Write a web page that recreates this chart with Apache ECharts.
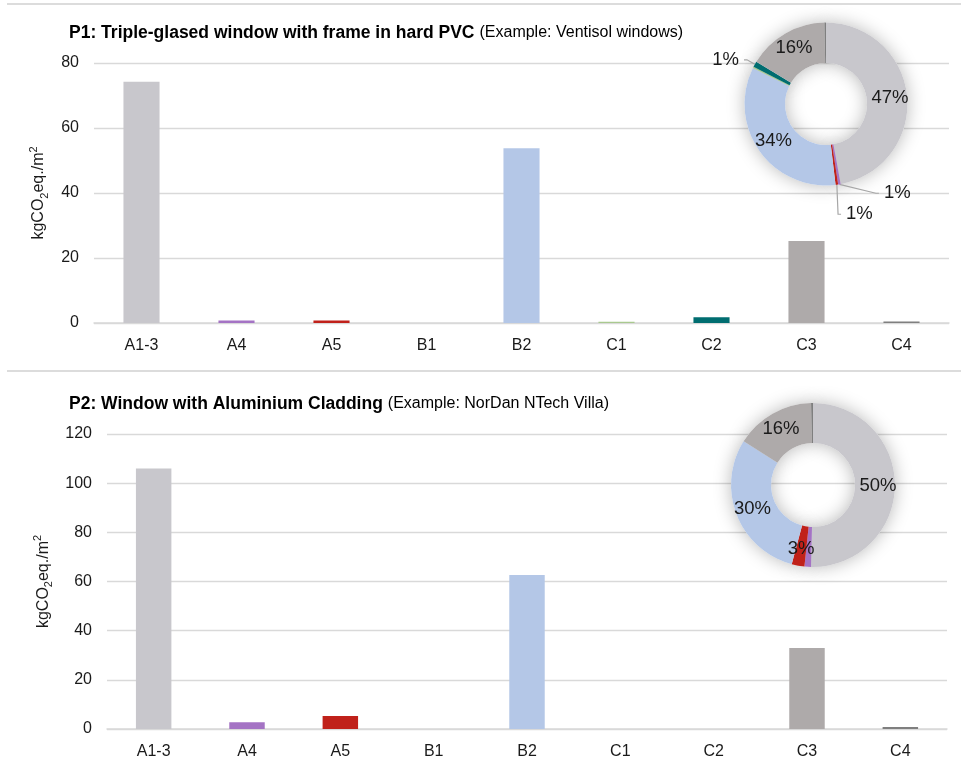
<!DOCTYPE html>
<html>
<head>
<meta charset="utf-8">
<script src="https://cdn.jsdelivr.net/npm/echarts@6/dist/echarts.min.js"></script>
<style>
  html, body { margin: 0; padding: 0; background: #fff; }
  #chart { width: 961px; height: 772px; }
</style>
</head>
<body>
<div id="chart"></div>
<script>
// Life-cycle stages (EN 15804 modules)
const categories = ['A1-3', 'A4', 'A5', 'B1', 'B2', 'C1', 'C2', 'C3', 'C4'];

// Embodied carbon per m² of window, kgCO2eq./m²
const p1Values = [74.2, 0.8, 0.8, 0, 53.8, 0.4, 1.8, 25.2, 0.5];
const p2Values = [106, 2.7, 5.3, 0, 62.6, 0, 0, 33, 0.8];

// Y-axis ticks
const p1Ticks = [0, 20, 40, 60, 80];
const p2Ticks = [0, 20, 40, 60, 80, 100, 120];

// Panel headings
const p1Title = 'P1: Triple-glased window with frame in hard PVC';
const p1Example = '(Example: Ventisol windows)';
const p2Title = 'P2: Window with Aluminium Cladding';
const p2Example = '(Example: NorDan NTech Villa)';

const stageColors = {
  'A1-3': '#c8c7cc', 'A4': '#a473c4', 'A5': '#c0211a', 'B1': '#8faadc',
  'B2': '#b4c7e7', 'C1': '#a9c98f', 'C2': '#006d70', 'C3': '#aeaaaa', 'C4': '#7f7f7f'
};

const FONT = '"Liberation Sans", Arial, sans-serif';
const TEXT = '#1a1a1a';

const yName = '{a|kgCO}{s|2}{a|eq./m}{p|2}';
const yNameRich = {
  a: { fontSize: 16, color: TEXT, lineHeight: 22, fontFamily: FONT },
  s: { fontSize: 11, color: TEXT, lineHeight: 22, verticalAlign: 'bottom', fontFamily: FONT },
  p: { fontSize: 11, color: TEXT, lineHeight: 22, verticalAlign: 'top', fontFamily: FONT }
};

function makeXAxis(gridIndex) {
  return {
    type: 'category', gridIndex, data: categories,
    axisLine: { lineStyle: { color: '#d9d9d9', width: 1.5 } },
    axisTick: { show: false },
    axisLabel: { color: TEXT, fontSize: 16, margin: 15, fontFamily: FONT }
  };
}

function makeYAxis(gridIndex, ticks, gap) {
  return {
    type: 'value', gridIndex,
    min: ticks[0], max: ticks[ticks.length - 1], interval: ticks[1] - ticks[0],
    axisLine: { show: false }, axisTick: { show: false },
    axisLabel: { color: TEXT, fontSize: 16, margin: 15, fontFamily: FONT },
    splitLine: { lineStyle: { color: '#d9d9d9', width: 1.3 } },
    name: yName, nameLocation: 'middle', nameRotate: 90, nameGap: gap,
    nameTextStyle: { rich: yNameRich }
  };
}

function makeBars(values, axisIndex) {
  return {
    type: 'bar', xAxisIndex: axisIndex, yAxisIndex: axisIndex,
    data: values, barWidth: '38%',
    itemStyle: { color: p => stageColors[categories[p.dataIndex]] }
  };
}

// Donut showing each stage's share; labels only where the share is readable
function makeDonut(values, center, radius, insideSet, outsideSet) {
  const data = categories.map((c, i) => {
    const item = { name: c, value: values[i], itemStyle: { color: stageColors[c] } };
    if (insideSet.includes(c)) {
      item.label = { show: true, position: 'inside' };
    } else if (outsideSet.includes(c)) {
      item.label = { show: true, position: 'outside' };
      item.labelLine = { show: true };
    } else {
      item.label = { show: false };
      item.labelLine = { show: false };
    }
    return item;
  });
  return {
    type: 'pie', center, radius, startAngle: 90, clockwise: true,
    percentPrecision: 0, avoidLabelOverlap: true, z: 5,
    label: { formatter: '{d}%', color: TEXT, fontSize: 18.5, fontFamily: FONT },
    labelLine: { length: 9, length2: 3, lineStyle: { color: '#a6a6a6', width: 1.2 } },
    data
  };
}

// Soft halo behind a donut, drawn from the same values
function makeHalo(values, center, radius) {
  return {
    type: 'pie', center, radius, startAngle: 90, silent: true, z: 4,
    label: { show: false }, labelLine: { show: false },
    itemStyle: { color: '#ffffff', shadowBlur: 18, shadowColor: 'rgba(0,0,0,0.28)' },
    data: categories.map((c, i) => ({ name: c, value: values[i] }))
  };
}

function heading(title, example, top) {
  return {
    text: '{b|' + title + '} {n|' + example + '}',
    left: 64, top,
    textStyle: {
      fontWeight: 'normal',
      rich: {
        b: { fontWeight: 'bold', fontSize: 17.5, color: '#000', fontFamily: FONT },
        n: { fontWeight: 'normal', fontSize: 16, color: '#000', fontFamily: FONT }
      }
    }
  };
}

const chart = echarts.init(document.getElementById('chart'), null, { renderer: 'canvas' });
chart.setOption({
  animation: false,
  backgroundColor: '#ffffff',
  textStyle: { fontFamily: FONT },
  title: [heading(p1Title, p1Example, 19), heading(p2Title, p2Example, 390)],
  grid: [
    { left: 94, width: 855, top: 63, height: 260 },
    { left: 107, width: 840, top: 434, height: 295 }
  ],
  xAxis: [makeXAxis(0), makeXAxis(1)],
  yAxis: [makeYAxis(0, p1Ticks, 44), makeYAxis(1, p2Ticks, 47)],
  series: [
    makeBars(p1Values, 0),
    makeBars(p2Values, 1),
    makeHalo(p1Values, [826, 104], [41, 81.5]),
    makeDonut(p1Values, [826, 104], [41, 81.5], ['A1-3', 'B2', 'C3'], ['A4', 'A5', 'C2']),
    makeHalo(p2Values, [813, 485], [42, 82]),
    makeDonut(p2Values, [813, 485], [42, 82], ['A1-3', 'B2', 'C3', 'A5'], [])
  ],
  graphic: [
    { type: 'line', shape: { x1: 7, y1: 4, x2: 961, y2: 4 }, style: { stroke: '#d0d0d0', lineWidth: 1.5 } },
    { type: 'line', shape: { x1: 7, y1: 371, x2: 961, y2: 371 }, style: { stroke: '#d0d0d0', lineWidth: 1.5 } }
  ]
});
</script>
</body>
</html>
